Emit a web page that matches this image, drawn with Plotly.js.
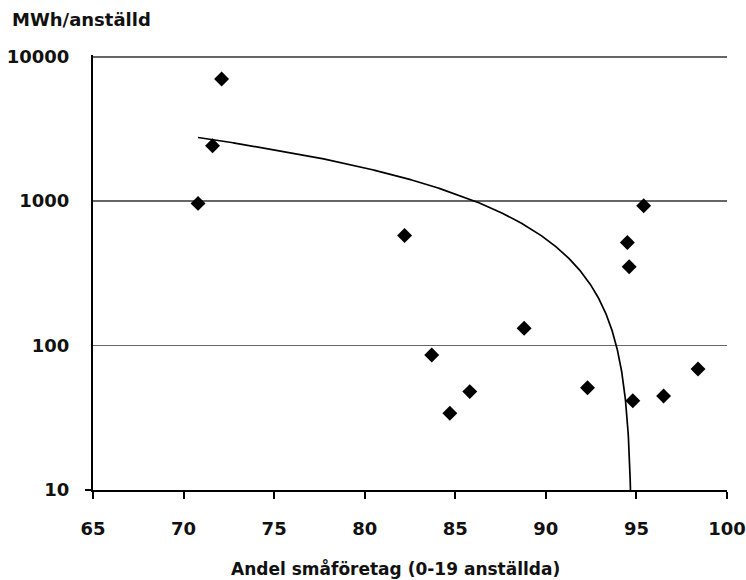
<!DOCTYPE html>
<html>
<head>
<meta charset="utf-8">
<script src="https://cdn.plot.ly/plotly-3.0.1.min.js"></script>
<style>
html,body{margin:0;padding:0;background:#fff;}
#chart{width:746px;height:580px;}
</style>
</head>
<body>
<div id="chart"></div>
<script>
// Data
const andelSmaforetag = [70.8, 71.6, 72.1, 82.2, 83.7, 84.7, 85.8, 88.8, 92.3, 94.5, 94.6, 94.8, 95.4, 96.5, 98.4];
const mwhPerAnstalld  = [965, 2420, 7000, 579, 86, 34, 48, 132, 51, 518, 351, 41.5, 929, 44.7, 68.8];
const yTickVals = [10, 100, 1000, 10000];
const yTickText = ['10', '100', '1000', '10000'];
const xTickVals = [65, 70, 75, 80, 85, 90, 95, 100];
const yTitle = 'MWh/anställd';
const xTitle = 'Andel småföretag (0-19 anställda)';

// Linear least-squares trend line (as in the original spreadsheet chart)
const n = andelSmaforetag.length;
const mx = andelSmaforetag.reduce((a, b) => a + b, 0) / n;
const my = mwhPerAnstalld.reduce((a, b) => a + b, 0) / n;
let sxy = 0, sxx = 0;
for (let i = 0; i < n; i++) {
  sxy += (andelSmaforetag[i] - mx) * (mwhPerAnstalld[i] - my);
  sxx += (andelSmaforetag[i] - mx) ** 2;
}
const slope = sxy / sxx;
const intercept = my - slope * mx;
const xMin = Math.min(...andelSmaforetag);
const xEnd = (1 - intercept) / slope; // where trend reaches 1 (below axis range)
const trendX = [], trendY = [];
const steps = 1500;
for (let i = 0; i <= steps; i++) {
  const x = xMin + (xEnd - xMin) * i / steps;
  trendX.push(x);
  trendY.push(intercept + slope * x);
}

const font = {family: 'DejaVu Sans', size: 18, color: '#111111', weight: 'bold'};
const yRange = [1, 4.012];

const traces = [
  {
    x: trendX, y: trendY, type: 'scatter', mode: 'lines',
    line: {color: '#000000', width: 1.7}, hoverinfo: 'skip'
  },
  {
    x: andelSmaforetag, y: mwhPerAnstalld, type: 'scatter', mode: 'markers',
    marker: {symbol: 'diamond', size: 11.5, color: '#000000'}
  },
  {
    x: [], y: [], type: 'scatter', mode: 'markers', yaxis: 'y2', hoverinfo: 'skip'
  }
];

const layout = {
  width: 746, height: 580,
  margin: {l: 93, r: 19, t: 55, b: 90},
  paper_bgcolor: '#ffffff', plot_bgcolor: '#ffffff',
  showlegend: false,
  font: font,
  xaxis: {
    range: [65, 100], tickvals: xTickVals, ticktext: xTickVals.map(String),
    ticks: 'outside', ticklen: 7, tickwidth: 2, tickcolor: '#000000',
    showline: true, linecolor: '#000000', linewidth: 2,
    showgrid: false, zeroline: false,
    ticklabelstandoff: 14,
    tickfont: font
  },
  yaxis: {
    type: 'log', range: yRange, tickvals: yTickVals, ticktext: yTickText,
    ticks: '', showline: true, linecolor: '#000000', linewidth: 2,
    showgrid: true, gridcolor: '#666666', gridwidth: 1.6, zeroline: false,
    ticklabelstandoff: 18,
    tickfont: font
  },
  yaxis2: {
    type: 'log', range: yRange, overlaying: 'y', side: 'left',
    tickvals: [yTickVals[0]], showticklabels: false,
    ticks: 'outside', ticklen: 7, tickwidth: 2, tickcolor: '#000000',
    showline: false, showgrid: false, zeroline: false
  },
  annotations: [
    {text: yTitle, xref: 'paper', yref: 'paper', x: (10 - 93) / 634, y: (490 - 20) / 435,
     xanchor: 'left', yanchor: 'middle', showarrow: false, font: font},
    {text: xTitle, xref: 'paper', yref: 'paper', x: (395.5 - 93) / 634, y: (490 - 568) / 435,
     xanchor: 'center', yanchor: 'middle', showarrow: false,
     font: {family: 'DejaVu Sans', size: 17, color: '#111111', weight: 'bold'}}
  ]
};

Plotly.newPlot('chart', traces, layout, {staticPlot: true, displayModeBar: false});
</script>
</body>
</html>
